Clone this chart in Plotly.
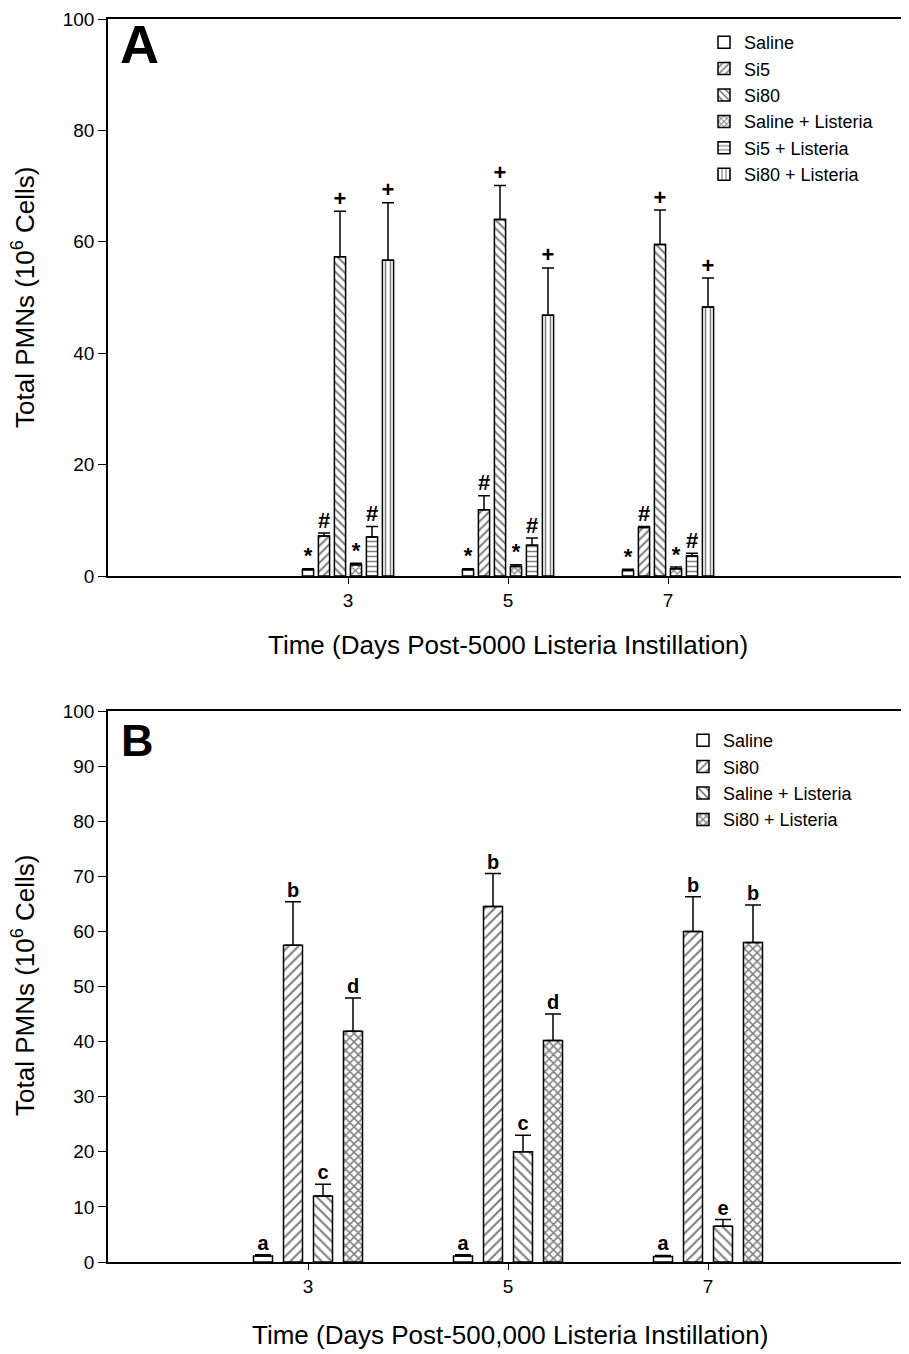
import plotly.graph_objects as go

days = [3, 5, 7]

# Panel A (5000 Listeria)
a_names = ["Saline", "Si5", "Si80", "Saline + Listeria", "Si5 + Listeria", "Si80 + Listeria"]
a_saline = [1.1, 1.1, 1.0]
a_saline_err = [0.2, 0.2, 0.2]
a_si5 = [7.2, 11.9, 8.7]
a_si5_err = [0.5, 2.5, 0.2]
a_si80 = [57.3, 64.0, 59.5]
a_si80_err = [8.2, 6.1, 6.2]
a_salL = [2.0, 1.7, 1.3]
a_salL_err = [0.3, 0.3, 0.3]
a_si5L = [7.0, 5.5, 3.6]
a_si5L_err = [1.9, 1.3, 0.5]
a_si80L = [56.7, 46.8, 48.3]
a_si80L_err = [10.3, 8.5, 5.2]
a_marks = ["*", "#", "+", "*", "#", "+"]

# Panel B (500,000 Listeria)
b_names = ["Saline", "Si80", "Saline + Listeria", "Si80 + Listeria"]
b_saline = [1.1, 1.1, 1.0]
b_saline_err = [0.2, 0.2, 0.2]
b_si80 = [57.5, 64.5, 60.0]
b_si80_err = [7.9, 6.0, 6.3]
b_salL = [12.0, 20.0, 6.5]
b_salL_err = [2.1, 3.0, 1.2]
b_si80L = [41.9, 40.2, 58.0]
b_si80L_err = [6.0, 4.8, 6.8]
b_letters = [["a", "a", "a"], ["b", "b", "b"], ["c", "c", "e"], ["d", "d", "b"]]

FONT = "Liberation Sans, Arial, sans-serif"
fig = go.Figure()

a_vals = [a_saline, a_si5, a_si80, a_salL, a_si5L, a_si80L]
a_errs = [a_saline_err, a_si5_err, a_si80_err, a_salL_err, a_si5L_err, a_si80L_err]
a_pat = [dict(shape=""), dict(shape="/", size=6, solidity=0.35),
         dict(shape="\\", size=6, solidity=0.35), dict(shape="x", size=5, solidity=0.45),
         dict(shape="-", size=5, solidity=0.3), dict(shape="|", size=5, solidity=0.3)]
slot_a, w_a = 0.2, 0.14
for i, (nm, v, e) in enumerate(zip(a_names, a_vals, a_errs)):
    off = -len(a_names) * slot_a / 2 + i * slot_a + (slot_a - w_a) / 2
    pat = dict(a_pat[i]); pat.update(fgcolor="black", bgcolor="white", fillmode="overlay")
    fig.add_trace(go.Bar(
        x=days, y=v, name=nm, width=w_a, offset=off, xaxis="x", yaxis="y",
        legend="legend",
        marker=dict(color="white", line=dict(color="black", width=1.5), pattern=pat),
        error_y=dict(type="data", symmetric=False, array=e, arrayminus=[0] * len(e),
                     color="black", thickness=1.5, width=6),
    ))
    fig.add_trace(go.Scatter(
        x=[d + off + w_a / 2 for d in days], y=[a + b for a, b in zip(v, e)],
        mode="text", text=[a_marks[i]] * 3, textposition="top center",
        textfont=dict(family=FONT, size=22, color="black", weight="bold"),
        showlegend=False, xaxis="x", yaxis="y", hoverinfo="skip", cliponaxis=False))

b_vals = [b_saline, b_si80, b_salL, b_si80L]
b_errs = [b_saline_err, b_si80_err, b_salL_err, b_si80L_err]
b_pat = [dict(shape=""), dict(shape="/", size=7, solidity=0.3),
         dict(shape="\\", size=7, solidity=0.3), dict(shape="x", size=6, solidity=0.45)]
slot_b, w_b = 0.3, 0.19
for i, (nm, v, e) in enumerate(zip(b_names, b_vals, b_errs)):
    off = -len(b_names) * slot_b / 2 + i * slot_b + (slot_b - w_b) / 2
    pat = dict(b_pat[i]); pat.update(fgcolor="black", bgcolor="white", fillmode="overlay")
    fig.add_trace(go.Bar(
        x=days, y=v, name=nm, width=w_b, offset=off, xaxis="x2", yaxis="y2",
        legend="legend2",
        marker=dict(color="white", line=dict(color="black", width=1.5), pattern=pat),
        error_y=dict(type="data", symmetric=False, array=e, arrayminus=[0] * len(e),
                     color="black", thickness=1.5, width=8),
    ))
    fig.add_trace(go.Scatter(
        x=[d + off + w_b / 2 for d in days], y=[a + b for a, b in zip(v, e)],
        mode="text", text=b_letters[i], textposition="top center",
        textfont=dict(family=FONT, size=20, color="black", weight="bold"),
        showlegend=False, xaxis="x2", yaxis="y2", hoverinfo="skip", cliponaxis=False))

# page body adds an 8px offset; figure coords = reference coords - 8
W, H = 901, 1346
OFF = 8
top_ref, bot_ref, left_ref, right_ref = 19, 1262, 108, 908
def py(px):
    return (bot_ref - px) / (bot_ref - top_ref)
def pxx(px):
    return (px - left_ref) / (right_ref - left_ref)

axis_common = dict(showline=True, linecolor="black", linewidth=1.5, mirror=True,
                   ticks="outside", tickcolor="black", tickwidth=1.2,
                   showgrid=False, zeroline=False,
                   tickfont=dict(family=FONT, size=19, color="black"))

fig.update_layout(
    width=W, height=H, plot_bgcolor="white", paper_bgcolor="white",
    margin=dict(l=left_ref - OFF, r=W - (right_ref - OFF), t=top_ref - OFF,
                b=H - (bot_ref - OFF), autoexpand=False),
    barmode="group",
    xaxis=dict(domain=[0, 1], range=[0, 10], tickvals=days, ticklen=6, anchor="y", **axis_common),
    yaxis=dict(domain=[py(576), 1.0], range=[0, 100], dtick=20, ticklen=8, anchor="x", **axis_common),
    xaxis2=dict(domain=[0, 1], range=[1, 9], tickvals=days, ticklen=6, anchor="y2", **axis_common),
    yaxis2=dict(domain=[0, py(711)], range=[0, 100], dtick=10, ticklen=8, anchor="x2", **axis_common),
    legend=dict(x=pxx(704), y=py(24), xanchor="left", yanchor="top",
                font=dict(family=FONT, size=18, color="black"), bgcolor="rgba(0,0,0,0)",
                tracegroupgap=0, itemwidth=30),
    legend2=dict(x=pxx(683), y=py(722), xanchor="left", yanchor="top",
                 font=dict(family=FONT, size=18, color="black"), bgcolor="rgba(0,0,0,0)",
                 tracegroupgap=0, itemwidth=30),
    showlegend=True,
)

def A(text, x, y, size, angle=0):
    return dict(text=text, x=pxx(x), y=py(y), xref="paper", yref="paper",
                xanchor="center", yanchor="middle", textangle=angle, showarrow=False,
                font=dict(family=FONT, size=size, color="black"))

ytitle = "Total PMNs (10<sup>6</sup> Cells)"
ann = [
    A(ytitle, 23, 297, 26, -90),
    A(ytitle, 23, 985, 26, -90),
    A("Time (Days Post-5000 Listeria Instillation)", 508, 645, 26),
    A("Time (Days Post-500,000 Listeria Instillation)", 510, 1335, 26),
    A("<b>A</b>", 139, 44, 54),
    A("<b>B</b>", 137, 740, 45),
]
fig.update_layout(annotations=ann)

fig.write_html("out.html")
